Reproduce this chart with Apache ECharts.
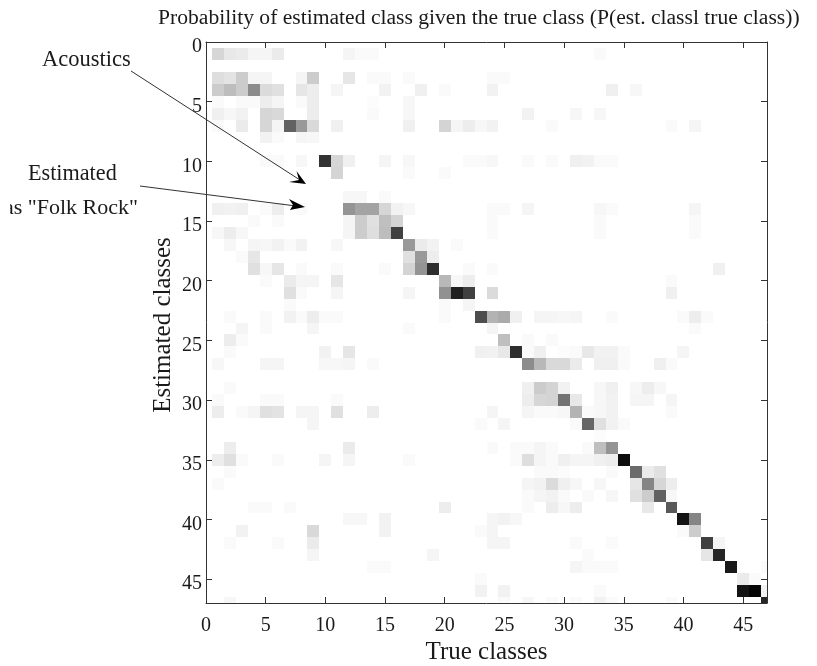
<!DOCTYPE html>
<html>
<head>
<meta charset="utf-8">
<style>html,body{margin:0;padding:0;background:#fff;overflow:hidden}#c{width:817px;height:666px}</style>
<script src="https://cdn.jsdelivr.net/npm/echarts@6/dist/echarts.min.js"></script>
</head>
<body>
<div id="c"></div>
<script>
const titleText = 'Probability of estimated class given the true class (P(est. classl true class))';
const xName = 'True classes';
const yName = 'Estimated classes';
const classCount = 47;
const tickStep = 5;
// each row: [true class, P(est|true)] for that estimated class
const est01 = [[1,.16],[2,.09],[3,.08],[4,.04],[5,.04],[6,.08],[12,.04],[13,.02],[14,.02],[33,.02]];
const est02 = [];
const est03 = [[1,.13],[2,.11],[3,.2],[4,.04],[5,.04],[8,.04],[9,.2],[12,.1],[14,.02],[15,.02],[17,.02],[24,.02],[25,.02]];
const est04 = [[1,.2],[2,.26],[3,.2],[4,.45],[5,.14],[6,.12],[8,.1],[9,.07],[11,.04],[15,.05],[18,.06],[20,.02],[24,.05],[34,.06],[36,.03]];
const est05 = [[1,.02],[3,.02],[4,.02],[5,.07],[6,.04],[8,.02],[9,.07],[14,.01],[17,.03]];
const est06 = [[1,.06],[2,.03],[3,.05],[5,.16],[6,.15],[9,.07],[14,.02],[17,.03],[27,.05],[31,.03],[33,.03]];
const est07 = [[1,.02],[3,.08],[5,.16],[6,.04],[7,.62],[8,.4],[9,.15],[11,.06],[17,.06],[20,.17],[21,.04],[22,.07],[23,.03],[24,.05],[29,.02],[39,.02],[41,.04]];
const est08 = [[5,.05],[6,.02],[8,.04],[9,.03]];
const est09 = [];
const est10 = [[5,.02],[6,.02],[8,.03],[10,.8],[11,.16],[12,.06],[15,.04],[17,.03],[22,.02],[23,.02],[24,.03],[27,.02],[29,.02],[31,.06],[32,.05],[33,.02],[34,.02]];
const est11 = [[11,.17],[17,.02],[20,.02]];
const est12 = [];
const est13 = [[12,.03],[13,.03],[15,.02]];
const est14 = [[1,.06],[2,.05],[3,.06],[5,.02],[6,.07],[8,.02],[12,.42],[13,.36],[14,.36],[15,.16],[16,.05],[17,.03],[24,.02],[25,.02],[27,.04],[33,.03],[34,.02],[41,.04]];
const est15 = [[4,.02],[6,.02],[12,.04],[13,.2],[14,.12],[15,.25],[16,.17],[24,.02],[33,.02],[41,.02]];
const est16 = [[1,.03],[2,.07],[3,.03],[12,.04],[13,.2],[14,.13],[15,.26],[16,.75],[24,.02],[33,.02],[41,.02]];
const est17 = [[2,.03],[4,.04],[5,.03],[6,.05],[7,.02],[8,.05],[11,.03],[17,.4],[18,.08],[19,.05],[21,.02]];
const est18 = [[3,.02],[4,.1],[17,.12],[18,.4],[19,.07]];
const est19 = [[4,.12],[5,.03],[6,.1],[8,.02],[11,.02],[15,.02],[17,.17],[18,.42],[19,.82],[22,.02],[24,.02],[43,.06]];
const est20 = [[5,.02],[7,.08],[8,.04],[9,.04],[11,.1],[20,.28],[21,.03],[22,.07],[39,.02]];
const est21 = [[7,.12],[8,.02],[11,.04],[17,.04],[20,.43],[21,.88],[22,.75],[24,.14],[39,.06]];
const est22 = [[7,.02],[20,.02],[22,.04]];
const est23 = [[2,.02],[5,.02],[7,.05],[8,.02],[9,.07],[10,.02],[11,.02],[20,.02],[23,.7],[24,.3],[25,.33],[26,.06],[28,.04],[29,.04],[30,.03],[31,.04],[34,.02],[40,.02],[41,.07],[42,.02]];
const est24 = [[3,.04],[5,.02],[9,.04],[17,.02],[24,.04],[41,.02]];
const est25 = [[2,.07],[3,.02],[25,.25],[27,.02],[29,.02]];
const est26 = [[2,.02],[10,.05],[12,.1],[23,.06],[24,.05],[25,.09],[26,.82],[27,.02],[28,.06],[30,.01],[31,.02],[32,.09],[33,.05],[34,.05],[35,.02],[40,.04]];
const est27 = [[1,.03],[5,.04],[6,.04],[10,.03],[11,.03],[12,.04],[14,.02],[27,.45],[28,.28],[29,.15],[30,.15],[31,.08],[33,.06],[34,.06],[35,.02],[38,.06],[39,.02]];
const est28 = [];
const est29 = [[2,.02],[27,.06],[28,.2],[29,.17],[30,.05],[33,.03],[34,.06],[36,.03],[37,.07],[38,.03]];
const est30 = [[1,.02],[5,.02],[6,.02],[11,.02],[27,.07],[28,.16],[29,.17],[30,.55],[31,.09],[33,.03],[34,.05],[36,.04],[37,.04],[39,.04]];
const est31 = [[1,.07],[3,.02],[4,.04],[5,.12],[6,.11],[8,.04],[9,.04],[11,.12],[14,.07],[24,.04],[27,.04],[28,.02],[29,.02],[30,.03],[31,.3],[32,.02],[33,.03],[34,.05],[39,.02]];
const est32 = [[9,.04],[23,.02],[25,.04],[31,.02],[32,.6],[33,.12],[34,.05],[35,.02]];
const est33 = [[33,.01]];
const est34 = [[2,.07],[12,.08],[24,.02],[26,.02],[27,.02],[28,.04],[29,.02],[32,.02],[33,.25],[34,.42]];
const est35 = [[1,.07],[2,.12],[3,.02],[6,.02],[10,.04],[12,.04],[17,.02],[26,.02],[27,.13],[28,.04],[29,.02],[30,.06],[31,.04],[32,.04],[33,.06],[34,.07],[35,.95]];
const est36 = [[2,.02],[28,.02],[29,.02],[30,.01],[34,.02],[36,.58],[37,.08],[38,.12]];
const est37 = [[1,.02],[27,.04],[28,.05],[29,.14],[30,.06],[31,.03],[33,.03],[36,.1],[37,.48],[38,.16],[39,.07]];
const est38 = [[27,.02],[28,.04],[29,.05],[30,.02],[32,.02],[34,.03],[36,.12],[37,.2],[38,.62],[39,.03]];
const est39 = [[4,.02],[5,.02],[7,.02],[20,.07],[27,.02],[29,.07],[30,.03],[31,.07],[37,.09],[39,.65]];
const est40 = [[12,.03],[13,.03],[15,.05],[24,.04],[25,.05],[26,.03],[40,.92],[41,.48]];
const est41 = [[3,.05],[9,.15],[15,.05],[23,.02],[24,.04],[40,.02],[41,.2]];
const est42 = [[2,.02],[6,.02],[9,.08],[24,.04],[25,.04],[31,.02],[34,.02],[42,.75],[43,.04]];
const est43 = [[9,.04],[19,.04],[32,.02],[42,.1],[43,.85]];
const est44 = [[14,.02],[15,.02],[31,.04],[32,.02],[33,.02],[34,.02],[44,.9],[47,.02]];
const est45 = [[23,.02],[45,.08],[46,.02]];
const est46 = [[23,.05],[25,.05],[33,.02],[45,.92],[46,.98],[47,.05]];
const est47 = [[2,.03],[25,.02],[27,.03],[29,.02],[31,.02],[33,.05],[34,.02],[39,.02],[47,.85]];

const estRows = [est01,est02,est03,est04,est05,est06,est07,est08,est09,est10,est11,est12,est13,est14,est15,est16,est17,est18,est19,est20,est21,est22,est23,est24,est25,est26,est27,est28,est29,est30,est31,est32,est33,est34,est35,est36,est37,est38,est39,est40,est41,est42,est43,est44,est45,est46,est47];
const cells = [];
estRows.forEach((row, r) => row.forEach(c => cells.push([c[0], r + 1, c[1]])));

const serif = '"Liberation Serif","Times New Roman",serif';
const ink = '#1a1a1a';
const chart = echarts.init(document.getElementById('c'), null, {renderer: 'canvas'});

function renderCell(params, api) {
  const x = api.value(0), y = api.value(1), p = api.value(2);
  const a = api.coord([x - 0.5, y - 0.5]);
  const b = api.coord([x + 0.5, y + 0.5]);
  const g = Math.round(255 * (1 - p));
  return {
    type: 'rect',
    shape: {x: Math.round(a[0]), y: Math.round(a[1]), width: Math.round(b[0]) - Math.round(a[0]), height: Math.round(b[1]) - Math.round(a[1])},
    style: {fill: 'rgb(' + g + ',' + g + ',' + g + ')'}
  };
}

function axisBase(extra) {
  return Object.assign({
    type: 'value', min: 0, max: classCount, interval: tickStep,
    splitLine: {show: false},
    axisLine: {show: true, onZero: false, lineStyle: {color: '#333', width: 1}},
    axisTick: {show: true, inside: true, length: 6, lineStyle: {color: '#333', width: 1}},
    axisLabel: {show: false}
  }, extra);
}

const labelStyle = {show: true, fontFamily: serif, fontSize: 20, color: ink, showMaxLabel: false};
const nameStyle = {fontFamily: serif, fontSize: 25, color: ink};

chart.setOption({
  animation: false,
  backgroundColor: '#fff',
  title: {text: titleText, left: 153, top: 2, textStyle: {fontFamily: serif, fontSize: 21.6, fontWeight: 'normal', color: ink}},
  grid: {left: 206, top: 42, width: 561, height: 561, containLabel: false, outerBoundsMode: 'none'},
  xAxis: [
    axisBase({position: 'bottom', axisLabel: Object.assign({}, labelStyle, {margin: 13, showMaxLabel: false}),
      name: xName, nameLocation: 'middle', nameGap: 37, nameMoveOverlap: false, nameTextStyle: nameStyle}),
    axisBase({position: 'top'})
  ],
  yAxis: [
    axisBase({position: 'left', inverse: true, axisLabel: Object.assign({}, labelStyle, {margin: 4, lineHeight: 10, verticalAlign: 'top'}),
      name: yName, nameLocation: 'middle', nameGap: 30, nameMoveOverlap: false, nameTextStyle: Object.assign({}, nameStyle, {padding: [0, 5, 0, 0]})}),
    axisBase({position: 'right', inverse: true})
  ],
  series: [{
    type: 'custom',
    coordinateSystem: 'cartesian2d',
    xAxisIndex: 0, yAxisIndex: 0,
    clip: true,
    silent: true,
    z: 1,
    data: cells,
    encode: {x: 0, y: 1},
    renderItem: renderCell
  }],
  graphic: [
    {type: 'text', left: 42, top: 49, style: {text: 'Acoustics', font: '22.5px ' + serif, fill: ink}, z: 10},
    {type: 'text', left: 28, top: 163, style: {text: 'Estimated', font: '22.2px ' + serif, fill: ink}, z: 10},
    {type: 'text', x: 138, y: 197, style: {text: 'as "Folk Rock"', font: '22px ' + serif, fill: ink, align: 'right'}, z: 10},
    {type: 'rect', shape: {x: 0, y: 190, width: 10, height: 34}, style: {fill: '#fff'}, z: 11},
    {type: 'line', shape: {x1: 131, y1: 71, x2: 300, y2: 180}, style: {stroke: '#333', lineWidth: 1}, z: 10},
    {type: 'polygon', shape: {points: [[306,184],[296.5,171],[299,180],[289,182]]}, style: {fill: '#000'}, z: 10},
    {type: 'line', shape: {x1: 140, y1: 186, x2: 296, y2: 206}, style: {stroke: '#333', lineWidth: 1}, z: 10},
    {type: 'polygon', shape: {points: [[305,207],[289,199],[293,205],[290,210]]}, style: {fill: '#000'}, z: 10}
  ]
});
</script>
</body>
</html>
